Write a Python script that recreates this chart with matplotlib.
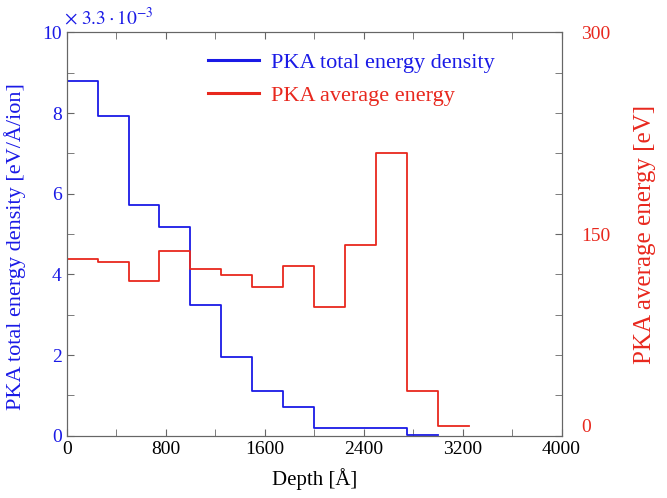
import numpy as np
import matplotlib.pyplot as plt
from matplotlib.ticker import MultipleLocator

plt.rcParams['font.family'] = ['Liberation Serif', 'DejaVu Serif']
plt.rcParams['mathtext.fontset'] = 'stix'

# bin edges (Angstrom), 250 A wide
depth_blue = [0, 250, 500, 750, 1000, 1250, 1500, 1750, 2000, 2250, 2500, 2750]
density = [8.79, 7.93, 5.71, 5.18, 3.24, 1.94, 1.12, 0.72, 0.18, 0.18, 0.20, 0.03]
depth_red = [0, 250, 500, 750, 1000, 1250, 1500, 1750, 2000, 2250, 2500, 2750, 3000]
avg_energy = [131.4, 129.4, 114.8, 137.4, 124.0, 119.3, 110.6, 126.4, 95.5, 142.1, 210.2, 33.5, 7.4]
bin_width = 250

blue = '#1a1ae6'
red = '#e8281e'
grey = '#666666'

fig = plt.figure(figsize=(6.67, 4.98), dpi=100)
ax = fig.add_axes([0.100, 0.125, 0.742, 0.810])
ax2 = ax.twinx()

xb = depth_blue + [depth_blue[-1] + bin_width]
yb = density + [density[-1]]
l1, = ax.step(xb, yb, where='post', color=blue, lw=1.3, label='PKA total energy density')
xr = depth_red + [depth_red[-1] + bin_width]
yr = avg_energy + [avg_energy[-1]]
l2, = ax2.step(xr, yr, where='post', color=red, lw=1.3, label='PKA average energy')

ax.set_xlim(0, 4000)
ax.set_ylim(0, 10)
ax2.set_ylim(0, 300)

ax.xaxis.set_major_locator(MultipleLocator(800))
ax.xaxis.set_minor_locator(MultipleLocator(400))
ax.yaxis.set_major_locator(MultipleLocator(2))
ax.yaxis.set_minor_locator(MultipleLocator(1))
ax2.yaxis.set_major_locator(MultipleLocator(150))
ax2.yaxis.set_minor_locator(MultipleLocator(30))

ax.tick_params(axis='x', which='both', direction='in', top=True, length=5, colors=grey,
               labelcolor='black', labelsize=14, pad=4)
ax.tick_params(axis='y', which='both', direction='in', length=5, colors=grey, labelcolor=blue, labelsize=14)
ax2.tick_params(axis='y', which='both', direction='in', length=5, colors=grey, labelcolor=red,
                labelsize=14, pad=14)

for a in (ax, ax2):
    for s in a.spines.values():
        s.set_color(grey)

# lift the right-hand "0" a little so it clears the "4000" below it
for t in ax2.get_yticklabels():
    if t.get_text() == '0':
        t.set_va('bottom')

ax.set_xlabel('Depth [Å]', fontsize=15, labelpad=7)
ax.set_ylabel('PKA total energy density [eV/Å/ion]', fontsize=16, color=blue)
ax.yaxis.set_label_coords(-0.082, 0.468)
ax2.set_ylabel('PKA average energy [eV]', fontsize=18, color=red, labelpad=17)

ax.text(-0.005, 1.01, r'$\times\ 3.3\cdot 10^{-3}$', transform=ax.transAxes,
        color=blue, fontsize=14, ha='left', va='bottom')

leg = ax2.legend(handles=[l1, l2], loc='upper left', bbox_to_anchor=(0.245, 1.0),
                 frameon=False, fontsize=16, handlelength=2.3, handletextpad=0.55,
                 labelspacing=0.55, labelcolor='linecolor')
for h in leg.legend_handles:
    h.set_linewidth(2.2)

fig.savefig('out.png', dpi=100)
